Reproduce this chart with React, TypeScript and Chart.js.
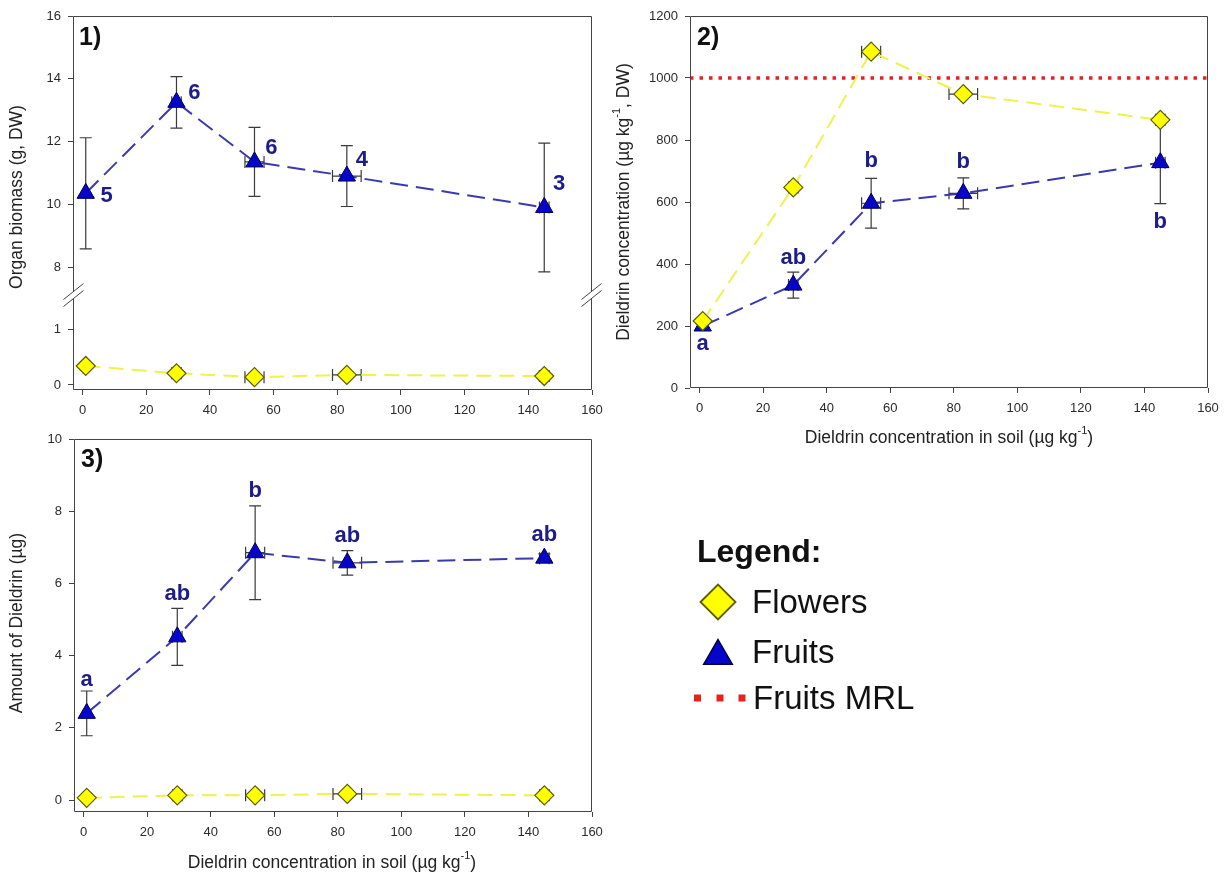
import React, { useEffect, useRef } from 'react';
import { Chart, registerables } from 'chart.js';

Chart.register(...registerables);

// ---------------- data ----------------
const soilConc = [1, 29.5, 54, 83, 145];
const soilConcErr = [0, 1.5, 3, 4.5, 1.5];
const soilTicks = [0, 20, 40, 60, 80, 100, 120, 140, 160];

const biomassFruits = [10.35, 13.25, 11.35, 10.9, 9.9];
const biomassFruitsErr = [1.77, 0.82, 1.1, 0.97, 2.05];
const biomassFlowers = [0.34, 0.21, 0.14, 0.18, 0.16];
const biomassFlowersErr = [0, 0, 0, 0, 0];
const biomassCounts = ['5', '6', '6', '4', '3'];
const biomassUpperTicks = [8, 10, 12, 14, 16];
const biomassLowerTicks = [0, 1];

const fruitConc = [200, 332, 596, 628, 727];
const fruitConcErr = [0, 42, 80, 50, 132];
const flowerConc = [216, 647, 1085, 948, 865];
const flowerConcErr = [0, 0, 0, 0, 0];
const fruitMRL = 1000;
const fruitConcLetters = ['a', 'ab', 'b', 'b', 'b'];
const concTicks = [0, 200, 400, 600, 800, 1000, 1200];

const fruitAmount = [2.4, 4.52, 6.85, 6.57, 6.7];
const fruitAmountErr = [0.62, 0.79, 1.3, 0.34, 0.12];
const flowerAmount = [0.06, 0.13, 0.13, 0.17, 0.13];
const flowerAmountErr = [0, 0, 0, 0, 0];
const fruitAmountLetters = ['a', 'ab', 'b', 'ab', 'ab'];
const amountTicks = [0, 2, 4, 6, 8, 10];

const legendLabels = ['Flowers', 'Fruits', 'Fruits MRL'];

// ---------------- styles / layout ----------------
const PAGE_W = 1227;
const PAGE_H = 877;
const FONT = '"Liberation Sans", Arial, Helvetica, sans-serif';
const X_MIN = -3;
const X_MAX = 160;
const Y_AXIS_W = 40;
const X_AXIS_H = 30;
const CAP = 6;

const FLOWER_FILL = '#FFFF00';
const FLOWER_EDGE = '#5c5c00';
const FLOWER_LINE = '#F0F04E';
const FRUIT_FILL = '#0505CC';
const FRUIT_EDGE = '#00004a';
const FRUIT_LINE = '#3a3aae';
const MRL_COLOR = '#E8201E';
const FRAME_COLOR = '#444';
const ERR_COLOR = '#3a3a3a';
const TICK_COLOR = '#2a2a2a';
const TEXT_COLOR = '#222';
const LETTER_COLOR = '#1c1c8a';

const P1 = { left: 73, top: 16, right: 592, bottom: 390 };
const P2 = { left: 690, top: 16, right: 1208, bottom: 388 };
const P3 = { left: 74, top: 439, right: 592, bottom: 812 };

type Pt = { x: number; y: number };
const toPoints = (ys: number[]): Pt[] => soilConc.map((x, i) => ({ x, y: ys[i] }));

function flowerSet(ys: number[], yAxisID: string) {
  return {
    label: legendLabels[0],
    data: toPoints(ys),
    yAxisID,
    showLine: true,
    borderColor: FLOWER_LINE,
    borderWidth: 2,
    borderDash: [15, 8],
    tension: 0,
    pointStyle: 'rectRot',
    pointRadius: 9.5,
    pointBackgroundColor: FLOWER_FILL,
    pointBorderColor: FLOWER_EDGE,
    pointBorderWidth: 1.2,
  };
}

function fruitSet(ys: number[], yAxisID: string) {
  return {
    label: legendLabels[1],
    data: toPoints(ys),
    yAxisID,
    showLine: true,
    borderColor: FRUIT_LINE,
    borderWidth: 2,
    borderDash: [18, 8],
    tension: 0,
    pointStyle: 'triangle',
    pointRadius: 10,
    pointBackgroundColor: FRUIT_FILL,
    pointBorderColor: FRUIT_EDGE,
    pointBorderWidth: 1,
  };
}

function mrlSet(yAxisID: string) {
  return {
    label: legendLabels[2],
    data: [
      { x: X_MIN, y: fruitMRL },
      { x: X_MAX, y: fruitMRL },
    ],
    yAxisID,
    showLine: true,
    borderColor: MRL_COLOR,
    borderWidth: 3.5,
    borderDash: [3.5, 6],
    borderCapStyle: 'butt',
    pointRadius: 0,
  };
}

const setTicks = (values: number[]) => (scale: any) => {
  scale.ticks = values.map((v) => ({ value: v }));
};

const gridOpts = {
  display: true,
  drawOnChartArea: false,
  drawTicks: true,
  tickLength: 5,
  tickColor: FRAME_COLOR,
  tickWidth: 1,
};

function xScale() {
  return {
    type: 'linear',
    position: 'bottom',
    min: X_MIN,
    max: X_MAX,
    afterBuildTicks: setTicks(soilTicks),
    afterFit: (s: any) => {
      s.height = X_AXIS_H;
    },
    grid: gridOpts,
    border: { display: false },
    ticks: {
      color: TICK_COLOR,
      font: { family: FONT, size: 13 },
      padding: 8,
      maxRotation: 0,
      autoSkip: false,
      callback: (v: any) => String(v),
    },
  };
}

function yScale(min: number, max: number, ticks: number[], extra: any = {}) {
  return {
    type: 'linear',
    position: 'left',
    min,
    max,
    afterBuildTicks: setTicks(ticks),
    afterFit: (s: any) => {
      s.width = Y_AXIS_W;
    },
    grid: gridOpts,
    border: { display: false },
    ticks: {
      color: TICK_COLOR,
      font: { family: FONT, size: 13 },
      padding: 7,
      autoSkip: false,
      callback: (v: any) => String(v),
    },
    ...extra,
  };
}

// ---------------- drawing helpers ----------------
type Run = { t: string; sup?: boolean };

function drawRuns(ctx: CanvasRenderingContext2D, runs: Run[], cx: number, cy: number, size: number, rotate: boolean) {
  ctx.save();
  ctx.translate(cx, cy);
  if (rotate) ctx.rotate(-Math.PI / 2);
  const main = `${size}px ${FONT}`;
  const small = `${Math.round(size * 0.62)}px ${FONT}`;
  let total = 0;
  runs.forEach((r) => {
    ctx.font = r.sup ? small : main;
    total += ctx.measureText(r.t).width;
  });
  let x = -total / 2;
  ctx.textAlign = 'left';
  ctx.textBaseline = 'middle';
  ctx.fillStyle = TEXT_COLOR;
  runs.forEach((r) => {
    ctx.font = r.sup ? small : main;
    ctx.fillText(r.t, x, r.sup ? -size * 0.4 : 0);
    x += ctx.measureText(r.t).width;
  });
  ctx.restore();
}

function diamond(ctx: CanvasRenderingContext2D, x: number, y: number, r: number, lw: number) {
  ctx.beginPath();
  ctx.moveTo(x - r, y);
  ctx.lineTo(x, y - r);
  ctx.lineTo(x + r, y);
  ctx.lineTo(x, y + r);
  ctx.closePath();
  ctx.fillStyle = FLOWER_FILL;
  ctx.fill();
  ctx.lineWidth = lw;
  ctx.strokeStyle = FLOWER_EDGE;
  ctx.stroke();
}

function triangle(ctx: CanvasRenderingContext2D, x: number, y: number, r: number, lw: number) {
  ctx.beginPath();
  for (let k = 0; k < 3; k++) {
    const a = (k * 2 * Math.PI) / 3;
    const px = x + Math.sin(a) * r;
    const py = y - Math.cos(a) * r;
    if (k === 0) ctx.moveTo(px, py);
    else ctx.lineTo(px, py);
  }
  ctx.closePath();
  ctx.fillStyle = FRUIT_FILL;
  ctx.fill();
  ctx.lineWidth = lw;
  ctx.strokeStyle = FRUIT_EDGE;
  ctx.stroke();
}

function drawFrame(ctx: CanvasRenderingContext2D, area: any, brk: number | null) {
  const l = Math.round(area.left) + 0.5;
  const r = Math.round(area.right) - 0.5;
  const t = Math.round(area.top) + 0.5;
  const b = Math.round(area.bottom) - 0.5;
  ctx.save();
  ctx.strokeStyle = FRAME_COLOR;
  ctx.lineWidth = 1;
  ctx.beginPath();
  ctx.moveTo(l, t);
  ctx.lineTo(r, t);
  ctx.moveTo(l, b);
  ctx.lineTo(r, b);
  if (brk === null) {
    ctx.moveTo(l, t);
    ctx.lineTo(l, b);
    ctx.moveTo(r, t);
    ctx.lineTo(r, b);
  } else {
    const g = 3.5;
    [l, r].forEach((x) => {
      ctx.moveTo(x, t);
      ctx.lineTo(x, brk - g);
      ctx.moveTo(x, brk + g);
      ctx.lineTo(x, b);
      [-g, g].forEach((s) => {
        ctx.moveTo(x - 10, brk + s + 8);
        ctx.lineTo(x + 10, brk + s - 8);
      });
    });
  }
  ctx.stroke();
  ctx.restore();
}

function drawLegend(ctx: CanvasRenderingContext2D) {
  ctx.save();
  ctx.textAlign = 'left';
  ctx.textBaseline = 'alphabetic';
  ctx.fillStyle = '#111';
  ctx.font = `bold 32px ${FONT}`;
  ctx.fillText('Legend:', 697, 562);
  diamond(ctx, 718, 602, 17.5, 1.8);
  triangle(ctx, 718, 656, 16.5, 1.5);
  ctx.fillStyle = MRL_COLOR;
  [697.5, 720, 742].forEach((cx) => ctx.fillRect(cx - 3.5, 698 - 3.5, 7, 7));
  ctx.fillStyle = '#111';
  ctx.font = `33px ${FONT}`;
  ctx.fillText(legendLabels[0], 752, 613);
  ctx.fillText(legendLabels[1], 752, 663);
  ctx.fillText(legendLabels[2], 753, 709);
  ctx.restore();
}

const decoPlugin = {
  id: 'deco',
  beforeDatasetsDraw(chart: any, _args: any, opts: any) {
    const ctx: CanvasRenderingContext2D = chart.ctx;
    (opts.errorBars || []).forEach((eb: any) => {
      const meta = chart.getDatasetMeta(eb.dataset);
      const xs = chart.scales[meta.xAxisID];
      const ys = chart.scales[meta.yAxisID];
      const data = chart.data.datasets[eb.dataset].data;
      ctx.save();
      ctx.strokeStyle = ERR_COLOR;
      ctx.lineWidth = 1.2;
      ctx.beginPath();
      data.forEach((p: Pt, i: number) => {
        const px = xs.getPixelForValue(p.x);
        const py = ys.getPixelForValue(p.y);
        const ye = eb.yErr[i];
        const xe = eb.xErr[i];
        if (ye > 0) {
          const a = ys.getPixelForValue(p.y + ye);
          const b = ys.getPixelForValue(p.y - ye);
          ctx.moveTo(px, a);
          ctx.lineTo(px, b);
          ctx.moveTo(px - CAP, a);
          ctx.lineTo(px + CAP, a);
          ctx.moveTo(px - CAP, b);
          ctx.lineTo(px + CAP, b);
        }
        if (xe > 0) {
          const a = xs.getPixelForValue(p.x - xe);
          const b = xs.getPixelForValue(p.x + xe);
          ctx.moveTo(a, py);
          ctx.lineTo(b, py);
          ctx.moveTo(a, py - CAP);
          ctx.lineTo(a, py + CAP);
          ctx.moveTo(b, py - CAP);
          ctx.lineTo(b, py + CAP);
        }
      });
      ctx.stroke();
      ctx.restore();
    });
  },
  afterDraw(chart: any, _args: any, opts: any) {
    const ctx: CanvasRenderingContext2D = chart.ctx;
    drawFrame(ctx, chart.chartArea, opts.breakAxis ? chart.scales[opts.breakAxis].bottom : null);
    (opts.pointLabels || []).forEach((pl: any) => {
      const meta = chart.getDatasetMeta(pl.dataset);
      ctx.save();
      ctx.fillStyle = LETTER_COLOR;
      ctx.font = `bold 22px ${FONT}`;
      ctx.textAlign = 'center';
      ctx.textBaseline = 'middle';
      meta.data.forEach((el: any, i: number) => {
        const [dx, dy] = pl.offsets[i];
        ctx.fillText(pl.texts[i], el.x + dx, el.y + dy);
      });
      ctx.restore();
    });
    (opts.titles || []).forEach((t: any) => drawRuns(ctx, t.runs, t.x, t.y, 17.5, !!t.rotate));
    (opts.tags || []).forEach((t: any) => {
      ctx.save();
      ctx.fillStyle = '#111';
      ctx.font = `bold 25px ${FONT}`;
      ctx.textAlign = 'left';
      ctx.textBaseline = 'alphabetic';
      ctx.fillText(t.text, t.x, t.y);
      ctx.restore();
    });
    if (opts.legend) drawLegend(ctx);
  },
};

function baseOptions(area: any, scales: any, deco: any) {
  return {
    responsive: false,
    maintainAspectRatio: false,
    animation: false,
    devicePixelRatio: 1,
    events: [],
    layout: {
      padding: {
        left: area.left - Y_AXIS_W,
        top: area.top,
        right: PAGE_W - area.right,
        bottom: PAGE_H - area.bottom - X_AXIS_H,
      },
    },
    scales,
    plugins: {
      legend: { display: false },
      tooltip: { enabled: false },
      title: { display: false },
      deco,
    },
  };
}

const soilTitle: Run[] = [{ t: 'Dieldrin concentration in soil (µg kg' }, { t: '-1', sup: true }, { t: ')' }];

function panel1Config() {
  return {
    type: 'scatter',
    data: { datasets: [flowerSet(biomassFlowers, 'yLow'), fruitSet(biomassFruits, 'yTop')] },
    options: baseOptions(
      P1,
      {
        x: xScale(),
        yLow: yScale(-0.09, 1.61, biomassLowerTicks, { stack: 'biomass', stackWeight: 95 }),
        yTop: yScale(7.11, 16, biomassUpperTicks, { stack: 'biomass', stackWeight: 279 }),
      },
      {
        breakAxis: 'yTop',
        errorBars: [
          { dataset: 0, xErr: soilConcErr, yErr: biomassFlowersErr },
          { dataset: 1, xErr: soilConcErr, yErr: biomassFruitsErr },
        ],
        pointLabels: [
          {
            dataset: 1,
            texts: biomassCounts,
            offsets: [
              [21, 3],
              [18, -9],
              [17, -14],
              [15, -16],
              [15, -24],
            ],
          },
        ],
        titles: [{ runs: [{ t: 'Organ biomass (g, DW)' }], x: 17, y: 197, rotate: true }],
        tags: [{ text: '1)', x: 79, y: 45 }],
      }
    ),
    plugins: [decoPlugin],
  };
}

function panel2Config() {
  return {
    type: 'scatter',
    data: { datasets: [flowerSet(flowerConc, 'y'), fruitSet(fruitConc, 'y'), mrlSet('y')] },
    options: baseOptions(
      P2,
      {
        x: xScale(),
        y: yScale(0, 1200, concTicks),
      },
      {
        errorBars: [
          { dataset: 0, xErr: soilConcErr, yErr: flowerConcErr },
          { dataset: 1, xErr: soilConcErr, yErr: fruitConcErr },
        ],
        pointLabels: [
          {
            dataset: 1,
            texts: fruitConcLetters,
            offsets: [
              [0, 18],
              [0, -27],
              [0, -42],
              [0, -31],
              [0, 59],
            ],
          },
        ],
        titles: [
          {
            runs: [{ t: 'Dieldrin concentration (µg kg' }, { t: '-1', sup: true }, { t: ', DW)' }],
            x: 624,
            y: 202,
            rotate: true,
          },
          { runs: soilTitle, x: 949, y: 438 },
        ],
        tags: [{ text: '2)', x: 697, y: 45 }],
      }
    ),
    plugins: [decoPlugin],
  };
}

function panel3Config() {
  return {
    type: 'scatter',
    data: { datasets: [flowerSet(flowerAmount, 'y'), fruitSet(fruitAmount, 'y')] },
    options: baseOptions(
      P3,
      {
        x: xScale(),
        y: yScale(-0.332, 10, amountTicks),
      },
      {
        errorBars: [
          { dataset: 0, xErr: soilConcErr, yErr: flowerAmountErr },
          { dataset: 1, xErr: soilConcErr, yErr: fruitAmountErr },
        ],
        pointLabels: [
          {
            dataset: 1,
            texts: fruitAmountLetters,
            offsets: [
              [0, -33],
              [0, -43],
              [0, -62],
              [0, -27],
              [0, -23],
            ],
          },
        ],
        titles: [
          { runs: [{ t: 'Amount of Dieldrin (µg)' }], x: 17, y: 623, rotate: true },
          { runs: soilTitle, x: 332, y: 863 },
        ],
        tags: [{ text: '3)', x: 81, y: 466.5 }],
        legend: true,
      }
    ),
    plugins: [decoPlugin],
  };
}

function ChartCanvas({ makeConfig }: { makeConfig: () => any }) {
  const ref = useRef<HTMLCanvasElement | null>(null);
  useEffect(() => {
    if (!ref.current) return;
    const chart = new Chart(ref.current, makeConfig());
    return () => chart.destroy();
  }, [makeConfig]);
  return (
    <canvas
      ref={ref}
      width={PAGE_W}
      height={PAGE_H}
      style={{ position: 'absolute', left: 0, top: 0, width: PAGE_W, height: PAGE_H }}
    />
  );
}

export default function App() {
  return (
    <div
      style={{
        position: 'absolute',
        left: 0,
        top: 0,
        width: PAGE_W,
        height: PAGE_H,
        background: '#ffffff',
        overflow: 'hidden',
      }}
    >
      <ChartCanvas makeConfig={panel1Config} />
      <ChartCanvas makeConfig={panel2Config} />
      <ChartCanvas makeConfig={panel3Config} />
    </div>
  );
}
